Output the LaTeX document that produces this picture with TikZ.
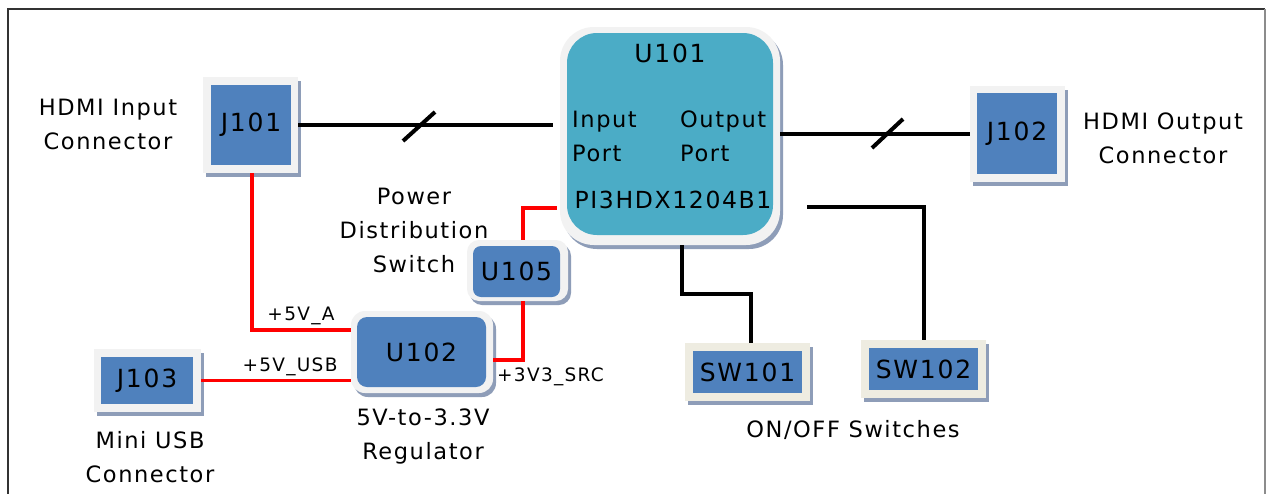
\documentclass[tikz,border=0pt]{standalone}
\usepackage{fontspec}
\setmainfont{DejaVu Sans}[LetterSpace=7]
\usetikzlibrary{shadows,calc}
\definecolor{boxblue}{HTML}{4F81BD}
\definecolor{chipteal}{HTML}{4BACC6}
\definecolor{outergrey}{HTML}{F2F2F2}
\definecolor{outerbeige}{HTML}{EEECE1}
\definecolor{shadowblue}{HTML}{8E9DB8}
\definecolor{netred}{HTML}{FF0000}
\tikzset{
  outerbox/.style={fill=outergrey, draw=none, inner sep=0pt,
    drop shadow={shadow xshift=3pt, shadow yshift=-4pt, opacity=1, fill=shadowblue}},
  innerbox/.style={fill=boxblue, draw=none, inner sep=0pt, font=\fontsize{25}{28}\selectfont},
  desc/.style={align=center, font=\fontsize{22.5}{34}\selectfont, inner sep=0pt},
  netlabel/.style={font=\fontsize{18.5}{20}\selectfont, inner sep=0pt},
  sigline/.style={line width=4pt, black},
  pwrline/.style={line width=3.5pt, netred},
  slashmark/.style={line width=4pt, black},
}
\begin{document}
\begin{tikzpicture}[x=1pt, y=-1pt]
\useasboundingbox (0,0) rectangle (1266,493);
\fill[white] (0,0) rectangle (1266,493);
\draw[line width=2pt, black!80] (8,494) -- (8,9) -- (1265,9);
\draw[line width=1.2pt, black!45] (1265,9) -- (1265,494);

% U101 chip
\node[outerbox, rounded corners=34pt, minimum width=220pt, minimum height=218pt] (U101) at (670,136) {};
\node[fill=chipteal, rounded corners=30pt, inner sep=0pt, minimum width=206pt, minimum height=202pt] (U101in) at (670,134) {};
\node[desc, font=\fontsize{25}{28}\selectfont] (U101name) at (670,53) {U101};
\node[desc, align=left, anchor=west] (inport) at (572,136) {Input\\Port};
\node[desc, align=left, anchor=west] (outport) at (680,136) {Output\\Port};
\node[desc, font=\fontsize{23.5}{28}\selectfont] (partno) at (673,200) {PI3HDX1204B1};

% connectors J
\node[outerbox, minimum width=95pt, minimum height=96pt] (J101) at (250.5,125) {};
\node[innerbox, minimum width=80pt, minimum height=80pt] (J101in) at (251,125) {J101};
\node[outerbox, minimum width=95pt, minimum height=96pt] (J102) at (1017.5,134) {};
\node[innerbox, minimum width=80pt, minimum height=81pt] (J102in) at (1017,133.5) {J102};
\node[outerbox, minimum width=107pt, minimum height=63pt] (J103) at (147.5,380.5) {};
\node[innerbox, minimum width=92pt, minimum height=47pt] (J103in) at (147,380.5) {J103};

% U105, U102
\node[outerbox, rounded corners=12pt, minimum width=101pt, minimum height=61pt] (U105) at (517.5,270.5) {};
\node[innerbox, rounded corners=8pt, minimum width=87pt, minimum height=51pt] (U105in) at (516.5,271.5) {U105};
\node[outerbox, rounded corners=14pt, minimum width=142pt, minimum height=82pt] (U102) at (422,352) {};
\node[innerbox, rounded corners=10pt, minimum width=129pt, minimum height=70pt] (U102in) at (421.5,352) {U102};

% switches
\node[outerbox, fill=outerbeige, minimum width=125pt, minimum height=58pt] (SW101) at (747.5,372) {};
\node[innerbox, minimum width=109pt, minimum height=42pt] (SW101in) at (747.5,372) {SW101};
\node[outerbox, fill=outerbeige, minimum width=125pt, minimum height=58pt] (SW102) at (923.5,369) {};
\node[innerbox, minimum width=109pt, minimum height=42pt] (SW102in) at (923.5,369) {SW102};

% descriptions
\node[desc] (lblJ101) at (108,124.5) {HDMI Input\\Connector};
\node[desc] (lblJ102) at (1163,138) {HDMI Output\\Connector};
\node[desc] (lblU105) at (414,230) {Power\\Distribution\\Switch};
\node[desc] (lblU102) at (423,436) {5V-to-3.3V\\Regulator};
\node[desc] (lblJ103) at (150,457) {Mini USB\\Connector};
\node[desc] (lblSW) at (853,430) {ON/OFF Switches};

% HDMI lines
\draw[sigline] (J101.east) -- (J101.east -| U101.west) [shorten >=7pt];
\draw[slashmark] (403,141) -- (435,112);
\draw[sigline] (J102.west -| U101.east) -- (J102.west);
\draw[slashmark] (872,148) -- (903,119);

% switch lines
\coordinate (swbus) at (807,207);
\draw[sigline] (swbus) -| (SW102.north);
\draw[sigline] ([xshift=12pt]U101.south) |- ($([xshift=12pt]U101.south)!0.5!(SW101.north)$) coordinate (sw1knee) -| ([xshift=3pt]SW101.north);

% power lines
\draw[pwrline] ([xshift=1.5pt]J101.south) |- ([yshift=22pt]U102.west);
\node[netlabel] (l5va) at (301,316) {+5V\_A};
\draw[pwrline] (J103.east) -- (J103.east -| U102.west);
\node[netlabel] (l5vusb) at (290,367) {+5V\_USB};
\draw[pwrline] ([yshift=-8pt]U102.east) -| ([xshift=5.5pt]U105.south);
\node[netlabel, anchor=west] (l3v3) at (497,377) {+3V3\_SRC};
\draw[pwrline] ([xshift=5.5pt]U105.north) |- ([yshift=-72pt,xshift=-3pt]U101.west);
\end{tikzpicture}
\end{document}
